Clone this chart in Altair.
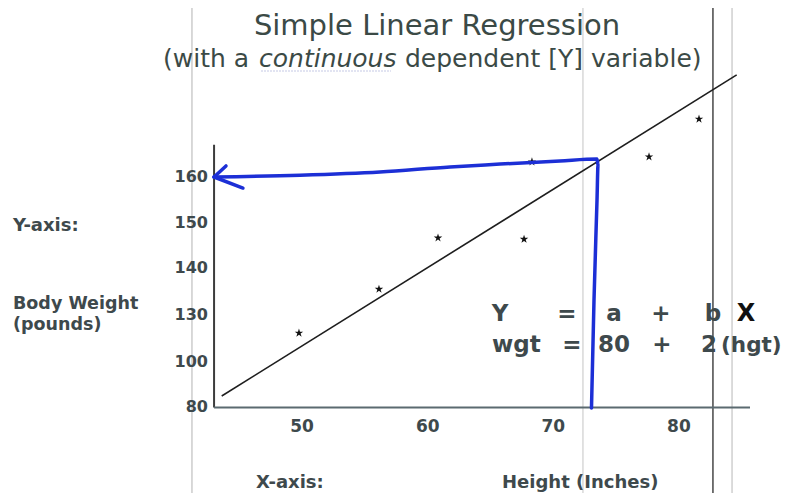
import altair as alt
import pandas as pd

FONT = "DejaVu Sans"
TEXT = "#3e494c"
TITLE_C = "#3b4a46"
BLUE = "#1c2fd6"

# ---- data ----
star_height = [49.75, 56.12, 60.82, 67.67, 68.30, 77.62, 81.60]
star_weight = [118.5, 135.5, 146.7, 146.4, 163.3, 164.4, 172.6]

fit_height = [43.6, 84.6]
fit_weight = [84.9, 182.2]

x_ticks = [50, 60, 70, 80]
y_ticks = [80, 100, 130, 140, 150, 160]

# hand-drawn blue arrow (height, weight)
arrow_height = [73.04, 73.24, 73.48, 73.56, 73.48, 70.53, 65.76, 61.78, 56.20, 49.83, 42.99]
arrow_weight = [79.6, 133.2, 155.0, 162.6, 163.9, 163.5, 162.8, 162.2, 161.1, 160.4, 160.0]
head_height_end = [43.94, 45.29]
head_weight_end = [162.4, 157.6]

# axis lines
axis_x0 = [42.99, 42.99]
axis_x1 = [42.99, 85.66]
axis_y0 = [79.8, 79.8]
axis_y1 = [167.0, 79.8]

# scan page-border lines
border_height = [41.23, 72.36, 82.71, 84.23]
border_color = ["#c4c4c4", "#d2d2d2", "#2a2a2a", "#c8c8c8"]

W, H = 776, 485
xs = alt.Scale(domain=[26.584, 88.367], range=[0, W], nice=False, zero=False)
ys = alt.Scale(domain=[80, 100, 130, 140, 150, 160, 185],
               range=[399, 354, 307, 260, 215, 169, 54], nice=False, zero=False)

stars = pd.DataFrame({"h": star_height, "w": star_weight})
fit = pd.DataFrame({"h": fit_height, "w": fit_weight})
arrow = pd.DataFrame({"h": arrow_height, "w": arrow_weight, "i": list(range(len(arrow_height)))})
head = pd.DataFrame({"h": [arrow_height[-1]] * 2, "w": [arrow_weight[-1]] * 2,
                     "h2": head_height_end, "w2": head_weight_end})
axes = pd.DataFrame({"h": axis_x0, "h2": axis_x1, "w": axis_y0, "w2": axis_y1,
                     "c": ["#3c3c3c", "#5b6a70"]})
borders = pd.DataFrame({"h": border_height, "c": border_color})
xt = pd.DataFrame({"v": x_ticks})
yt = pd.DataFrame({"v": y_ticks})

dummy = alt.Data(values=[{}])

STAR = "M0,-1L0.2245,-0.309L0.951,-0.309L0.363,0.118L0.588,0.809L0,0.382L-0.588,0.809L-0.363,0.118L-0.951,-0.309L-0.2245,-0.309Z"


def label(txt, x, y, size, weight="normal", style="normal", align="left", color=TEXT):
    return alt.Chart(dummy).mark_text(
        text=txt, fontSize=size, fontWeight=weight, fontStyle=style, align=align,
        baseline="alphabetic", font=FONT, color=color
    ).encode(x=alt.value(x - 8), y=alt.value(y - 8))


border_layer = alt.Chart(borders).mark_rule(strokeWidth=1.3).encode(
    x=alt.X("h:Q", scale=xs, axis=None),
    y=alt.value(0), y2=alt.value(H),
    color=alt.Color("c:N", scale=None),
)

axis_layer = alt.Chart(axes).mark_rule(strokeWidth=2).encode(
    x=alt.X("h:Q", scale=xs, axis=None), x2="h2:Q",
    y=alt.Y("w:Q", scale=ys, axis=None), y2="w2:Q",
    color=alt.Color("c:N", scale=None),
)

fit_layer = alt.Chart(fit).mark_line(color="#1e1e1e", strokeWidth=1.6).encode(
    x=alt.X("h:Q", scale=xs, axis=None),
    y=alt.Y("w:Q", scale=ys, axis=None),
)

star_layer = alt.Chart(stars).mark_point(shape=STAR, filled=True, color="#111111", size=80, opacity=1).encode(
    x=alt.X("h:Q", scale=xs, axis=None),
    y=alt.Y("w:Q", scale=ys, axis=None),
)

arrow_layer = alt.Chart(arrow).mark_line(color=BLUE, strokeWidth=3.5, strokeCap="round", strokeJoin="round",
                                         interpolate="monotone").encode(
    x=alt.X("h:Q", scale=xs, axis=None),
    y=alt.Y("w:Q", scale=ys, axis=None),
    order="i:Q",
)

head_layer = alt.Chart(head).mark_rule(color=BLUE, strokeWidth=3.5, strokeCap="round").encode(
    x=alt.X("h:Q", scale=xs, axis=None), x2="h2:Q",
    y=alt.Y("w:Q", scale=ys, axis=None), y2="w2:Q",
)

xtick_layer = alt.Chart(xt).mark_text(font=FONT, fontSize=17, fontWeight="bold", color=TEXT,
                                      baseline="middle").encode(
    x=alt.X("v:Q", scale=xs, axis=None), y=alt.value(427 - 8), text="v:Q")

ytick_layer = alt.Chart(yt).mark_text(font=FONT, fontSize=16, fontWeight="bold", color=TEXT,
                                      baseline="middle", align="right").encode(
    y=alt.Y("v:Q", scale=ys, axis=None), x=alt.value(208 - 8), text="v:Q")

underline = alt.Chart(dummy).mark_rule(color="#c5c9e6", strokeWidth=1.2, strokeDash=[2, 1]).encode(
    x=alt.value(261 - 8), x2=alt.value(391 - 8), y=alt.value(71 - 8))

texts = [
    label("Simple Linear Regression", 437, 35, 29, align="center", color=TITLE_C),
    label("(with a", 163, 67, 25, color=TITLE_C),
    label("continuous", 259, 67, 25, style="italic", color=TITLE_C),
    label("dependent [Y] variable)", 405, 67, 25, color=TITLE_C),
    label("Y-axis:", 13, 231, 18, weight="bold"),
    label("Body Weight", 13, 309, 17.5, weight="bold"),
    label("(pounds)", 13, 330, 17.5, weight="bold"),
    label("X-axis:", 256, 488, 18, weight="bold"),
    label("Height (Inches)", 502, 488, 18, weight="bold"),
    label("Y", 500, 321, 23, weight="bold", align="center"),
    label("=", 567, 321, 23, weight="bold", align="center"),
    label("a", 614, 321, 23, weight="bold", align="center"),
    label("+", 661, 321, 23, weight="bold", align="center"),
    label("b", 713, 321, 23, weight="bold", align="center"),
    label("X", 746, 321, 24, weight="bold", align="center", color="#111111"),
    label("wgt", 492, 352, 23, weight="bold"),
    label("=", 572, 352, 23, weight="bold", align="center"),
    label("80", 614, 352, 23, weight="bold", align="center"),
    label("+", 662, 352, 23, weight="bold", align="center"),
    label("2", 709, 352, 23, weight="bold", align="center"),
    label("(hgt)", 721, 352, 21.5, weight="bold"),
]

chart = alt.layer(
    border_layer, axis_layer, fit_layer, star_layer, xtick_layer, ytick_layer,
    underline, *texts, arrow_layer, head_layer,
).properties(
    width=W, height=H, padding=0, autosize=alt.AutoSizeParams(type="none"),
    background="white",
).configure_view(stroke=None)

chart.save("out.html", embed_options={"renderer": "svg", "actions": False})
